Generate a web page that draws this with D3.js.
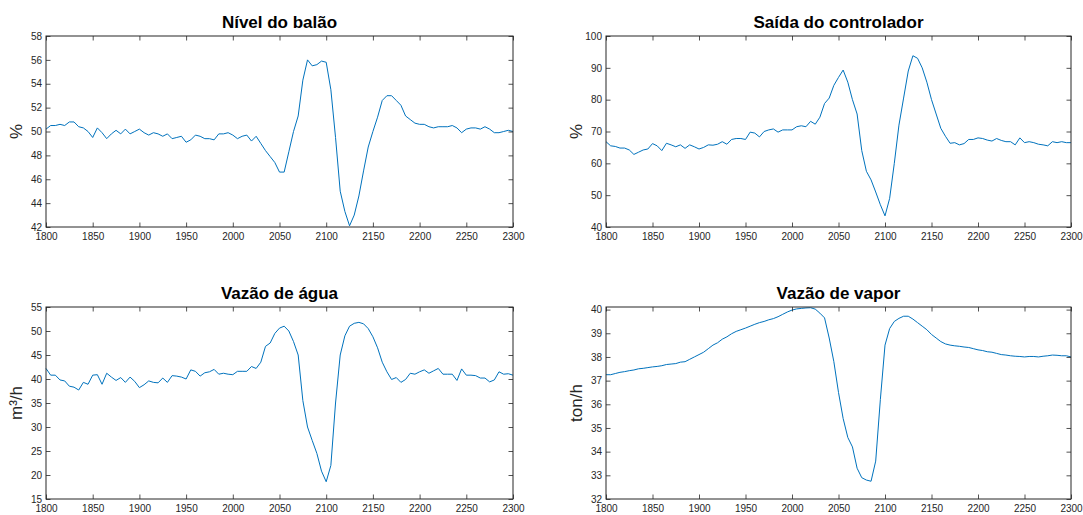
<!DOCTYPE html>
<html>
<head>
<meta charset="utf-8">
<script src="https://cdn.jsdelivr.net/npm/d3@7"></script>
<style>
  html, body { margin: 0; padding: 0; background: #fff; }
  svg { display: block; }
  .tick text { font-family: "Liberation Sans", Arial, sans-serif; font-size: 10px; fill: #262626; }
</style>
</head>
<body>
<svg id="chart" width="1083" height="515"></svg>
<script>
// Sample instants (time steps) shared by all four series
const tempo = [
  1800,1805,1810,1815,1820,1825,1830,1835,1840,1845,1850,1855,1860,1865,1870,1875,1880,1885,1890,1895,
  1900,1905,1910,1915,1920,1925,1930,1935,1940,1945,1950,1955,1960,1965,1970,1975,1980,1985,1990,1995,
  2000,2005,2010,2015,2020,2025,2030,2035,2040,2045,2050,2055,2060,2065,2070,2075,2080,2085,2090,2095,
  2100,2105,2110,2115,2120,2125,2130,2135,2140,2145,2150,2155,2160,2165,2170,2175,2180,2185,2190,2195,
  2200,2205,2210,2215,2220,2225,2230,2235,2240,2245,2250,2255,2260,2265,2270,2275,2280,2285,2290,2295,2300
];

// Nível do balão (%)
const nivel = [
  50.2,50.5,50.5,50.6,50.5,50.8,50.8,50.4,50.3,50.0,49.5,50.3,49.9,49.4,49.8,50.1,49.8,50.2,49.8,50.0,
  50.2,49.9,49.7,49.9,49.8,49.6,49.8,49.4,49.5,49.6,49.1,49.3,49.7,49.6,49.4,49.4,49.3,49.8,49.8,49.9,
  49.7,49.4,49.6,49.7,49.2,49.6,49.0,48.4,47.9,47.4,46.6,46.6,48.3,50.0,51.3,54.3,56.0,55.5,55.6,55.9,
  55.8,53.5,49.5,45.0,43.3,42.1,43.0,44.6,46.7,48.7,50.0,51.2,52.6,53.0,53.0,52.6,52.2,51.3,51.0,50.7,
  50.6,50.6,50.4,50.3,50.4,50.4,50.4,50.5,50.3,49.9,50.2,50.3,50.3,50.2,50.4,50.2,49.9,49.9,50.0,50.1,50.0
];

// Saída do controlador (%)
const saida = [
  66.8,65.5,65.3,64.8,64.8,64.2,62.8,63.5,64.2,64.5,66.2,65.5,64.0,66.3,65.8,65.2,65.8,64.7,65.8,65.2,
  64.5,65.0,65.8,65.7,66.0,66.8,66.0,67.5,67.8,67.8,67.5,69.8,69.5,68.3,70.0,70.5,70.8,69.8,70.5,70.5,
  70.5,71.5,71.8,71.5,73.2,72.3,74.5,78.8,80.5,84.5,87.0,89.3,85.5,80.0,75.5,64.0,57.5,54.8,51.0,47.0,
  43.5,49.0,60.0,72.0,80.5,89.0,93.8,93.0,90.0,85.5,80.0,75.5,71.0,68.5,66.3,66.5,65.8,66.2,67.5,67.5,
  68.0,67.8,67.3,67.0,67.8,67.2,66.8,66.8,65.8,68.0,66.5,66.8,66.5,66.0,65.8,65.5,66.8,66.5,66.8,66.5,66.5
];

// Vazão de água (m³/h)
const agua = [
  42.2,40.8,40.8,39.8,39.6,38.5,38.3,37.7,39.3,38.9,40.8,40.9,38.9,41.2,40.4,39.7,40.3,39.3,40.4,39.5,
  38.2,38.8,39.6,39.3,39.2,40.2,39.3,40.7,40.6,40.4,40.0,41.9,41.6,40.6,41.3,41.5,42.0,41.0,41.2,41.0,
  40.9,41.6,41.6,41.6,42.6,42.2,43.5,46.8,47.5,49.5,50.6,51.0,50.0,47.8,45.0,35.5,30.0,27.2,24.5,20.8,
  18.6,22.0,35.0,45.0,49.0,51.0,51.6,51.8,51.5,50.5,48.8,46.5,43.5,41.5,39.9,40.3,39.3,39.9,41.2,41.0,
  41.5,41.9,41.2,41.7,42.2,41.0,41.0,41.0,39.7,42.1,40.8,40.8,40.7,40.2,40.2,39.4,39.8,41.5,41.0,41.1,40.8
];

// Vazão de vapor (ton/h)
const vapor = [
  37.25,37.25,37.30,37.35,37.38,37.42,37.45,37.50,37.52,37.55,37.58,37.60,37.63,37.68,37.70,37.72,37.78,37.80,37.90,38.00,
  38.10,38.20,38.35,38.50,38.60,38.75,38.85,38.98,39.08,39.15,39.22,39.30,39.38,39.45,39.50,39.57,39.62,39.70,39.80,39.90,
  39.98,40.03,40.05,40.07,40.08,40.02,39.85,39.65,38.80,37.80,36.50,35.40,34.60,34.20,33.30,32.90,32.80,32.75,33.60,36.20,
  38.50,39.20,39.50,39.63,39.72,39.72,39.60,39.45,39.30,39.15,38.95,38.80,38.65,38.55,38.50,38.47,38.45,38.42,38.40,38.35,
  38.30,38.27,38.22,38.20,38.15,38.10,38.08,38.05,38.03,38.02,38.00,38.02,38.02,38.00,38.03,38.05,38.08,38.07,38.05,38.05,38.00
];

// Tick values
const xTicks = [1800,1850,1900,1950,2000,2050,2100,2150,2200,2250,2300];
const nivelTicks = [42,44,46,48,50,52,54,56,58];
const saidaTicks = [40,50,60,70,80,90,100];
const aguaTicks = [15,20,25,30,35,40,45,50,55];
const vaporTicks = [32,33,34,35,36,37,38,39,40];

const panels = [
  { title: "Nível do balão",       ylabel: "%",     values: nivel, yDomain: [42, 58],    yTicks: nivelTicks, box: [46, 36, 513, 227] },
  { title: "Saída do controlador", ylabel: "%",     values: saida, yDomain: [40, 100],   yTicks: saidaTicks, box: [606, 36, 1071, 227] },
  { title: "Vazão de água",        ylabel: "m³/h",  values: agua,  yDomain: [15, 55],    yTicks: aguaTicks,  box: [46, 307, 513, 499] },
  { title: "Vazão de vapor",       ylabel: "ton/h", values: vapor, yDomain: [32, 40.11], yTicks: vaporTicks, box: [606, 307, 1071, 499] }
];

const svg = d3.select("#chart");
const axisColor = "#262626";
const tickLen = 4.5;

panels.forEach(p => {
  const [x0, y0, x1, y1] = p.box;
  const x = d3.scaleLinear().domain([1800, 2300]).range([x0, x1]);
  const y = d3.scaleLinear().domain(p.yDomain).range([y1, y0]);
  const g = svg.append("g");

  // Data line
  const line = d3.line().x((d, i) => x(tempo[i])).y(d => y(d));
  g.append("path")
    .datum(p.values)
    .attr("d", line)
    .attr("fill", "none")
    .attr("stroke", "#0072BD")
    .attr("stroke-width", 1)
    .attr("stroke-linejoin", "round");

  // Bottom axis with labels, ticks pointing inward
  const bottom = g.append("g").attr("transform", `translate(0,${y1})`)
    .call(d3.axisBottom(x).tickValues(xTicks).tickFormat(d3.format("d")).tickSizeInner(-tickLen).tickSizeOuter(0).tickPadding(5.5));
  // Left axis with labels
  const left = g.append("g").attr("transform", `translate(${x0},0)`)
    .call(d3.axisLeft(y).tickValues(p.yTicks).tickFormat(d3.format("d")).tickSizeInner(-tickLen).tickSizeOuter(0).tickPadding(4));
  // Top and right mirrored ticks
  const top = g.append("g").attr("transform", `translate(0,${y0})`)
    .call(d3.axisTop(x).tickValues(xTicks).tickFormat("").tickSizeInner(-tickLen).tickSizeOuter(0));
  const right = g.append("g").attr("transform", `translate(${x1},0)`)
    .call(d3.axisRight(y).tickValues(p.yTicks).tickFormat("").tickSizeInner(-tickLen).tickSizeOuter(0));

  [bottom, left, top, right].forEach(a => {
    a.select(".domain").remove();
    a.selectAll(".tick line").attr("stroke", axisColor).attr("stroke-width", 0.8);
  });

  // Axes box
  g.append("rect")
    .attr("x", x0).attr("y", y0)
    .attr("width", x1 - x0).attr("height", y1 - y0)
    .attr("fill", "none")
    .attr("stroke", axisColor)
    .attr("stroke-width", 1);

  // Title
  g.append("text")
    .attr("x", (x0 + x1) / 2)
    .attr("y", y0 - 8)
    .attr("text-anchor", "middle")
    .attr("font-family", "Liberation Sans, Arial, sans-serif")
    .attr("font-weight", "bold")
    .attr("font-size", 17)
    .attr("fill", "#000")
    .text(p.title);

  // Y label
  g.append("text")
    .attr("transform", `translate(${x0 - 24},${(y0 + y1) / 2}) rotate(-90)`)
    .attr("text-anchor", "middle")
    .attr("font-family", "Liberation Sans, Arial, sans-serif")
    .attr("font-size", 17)
    .attr("fill", axisColor)
    .text(p.ylabel);
});
</script>
</body>
</html>
